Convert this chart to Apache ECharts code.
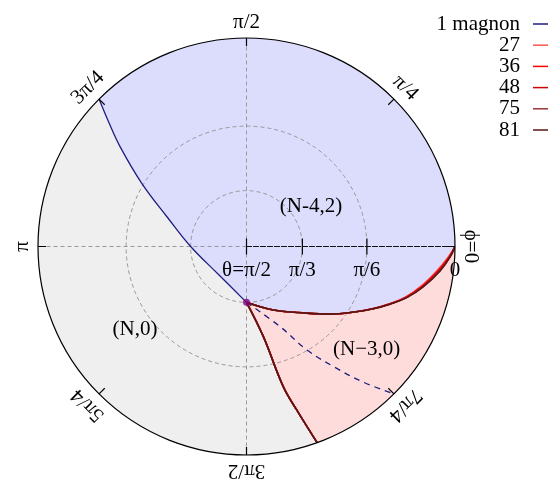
<!DOCTYPE html>
<html><head><meta charset="utf-8">
<script src="https://cdn.jsdelivr.net/npm/echarts@6/dist/echarts.min.js"></script>
<style>html,body{margin:0;padding:0;background:#fff}#c{width:559px;height:482px}</style>
</head><body><div id="c"></div>
<script>
// ---- axis ticks / labels ----
const angleTicks = [0, 45, 90, 135, 180, 225, 270, 315];
const angleLabels = ['ϕ=0', 'π/4', 'π/2', '3π/4', 'π', '5π/4', '3π/2', '7π/4'];
const gridAngles = [0, 90, 180, 270];
const thetaTicks = [90, 60, 30, 0];
const thetaLabels = ['θ=π/2', 'π/3', 'π/6', '0'];
const gridThetas = [60, 30];

// ---- data: curves given as (phi deg, theta deg) ----
const critPoint = [270, 60];
const magnonPhi = [270, 225, 180, 159.6, 148.9, 141.7, 138.1, 135];
const magnonTheta = [60, 68.5, 60, 45.8, 29.2, 14.6, 7.0, 0];
const magnonDashPhi = [270, 292.7, 300.3, 306.0, 310.7, 315];
const magnonDashTheta = [60, 44.8, 30.2, 19.0, 8.8, 0];

const seriesNames = ['27', '36', '48', '75', '81'];
const upperPhi = [270, 292.9, 312.1, 321.0, 329.2, 333.8, 338.1, 342.3, 347.1, 352.8, 357.0, 360];
const upper27 = [60, 53.4, 43.4, 35.5, 27.1, 21.95, 17.2, 12.75, 8.8, 4.7, 1.8, 0];
const upper36 = [60, 53.4, 43.4, 35.5, 27.1, 21.9, 17.05, 12.55, 8.5, 4.4, 1.6, 0];
const upper48 = [60, 53.4, 43.4, 35.5, 27.1, 21.85, 16.95, 12.4, 8.3, 4.15, 1.5, 0];
const upper75 = [60, 53.4, 43.4, 35.5, 27.1, 21.8, 16.9, 12.25, 8.1, 3.9, 1.35, 0];
const upper81 = [60, 53.4, 43.4, 35.5, 27.1, 21.8, 16.9, 12.2, 8.0, 3.8, 1.3, 0];
const lowerPhi = [270, 280.6, 284.7, 287.1, 289.8];
const lowerTheta = [60, 42.5, 20.4, 11.2, 0];

const regionNames = ['(N,0)', '(N-4,2)', '(N−3,0)'];
const regionPhi = [216.8, 31.5, 319.5];
const regionTheta = [22.5, 50.1, 15.7];

// ---- styles ----
const FONT = 'Liberation Serif';
const FS = 21;
const magnonColor = '#1e1e80';
const nColors = ['#ff5555', '#ff0000', '#d00000', '#993333', '#5a1515'];
const upperSets = [upper27, upper36, upper48, upper75, upper81];

// stereographic radial scale: r = tan((pi/2 - theta)/2)
const rOf = th => Math.tan((90 - th) / 2 * Math.PI / 180);
const pts = (phis, ths) => phis.map((p, i) => [rOf(ths[i]), p]);

const chart = echarts.init(document.getElementById('c'), null, {renderer: 'canvas'});

const series = [];

// region fills
series.push({
  type: 'custom', coordinateSystem: 'polar', z: 1, silent: true,
  data: [[0, 0], [0, 0], [0, 0]],
  renderItem: function (params, api) {
    const cs = params.coordSys;
    const P = (phi, th) => api.coord([rOf(th), phi]);
    const i = params.dataIndex;
    if (i === 0) {
      return {type: 'circle', shape: {cx: cs.cx, cy: cs.cy, r: cs.r}, style: {fill: '#efefef'}};
    }
    const poly = [];
    if (i === 1) {
      magnonPhi.forEach((p, k) => poly.push(P(p, magnonTheta[k])));
      for (let a = magnonPhi[magnonPhi.length - 1]; a >= 0; a -= 1) poly.push(P(a, 0));
      for (let k = upperPhi.length - 1; k >= 0; k--) poly.push(P(upperPhi[k], upper81[k]));
      return {type: 'polygon', shape: {points: poly, smooth: 0.3}, style: {fill: '#dcdcfd'}};
    }
    upperPhi.forEach((p, k) => poly.push(P(p, upper81[k])));
    const end = lowerPhi[lowerPhi.length - 1];
    for (let a = 360; a >= end; a -= 1) poly.push(P(a, 0));
    for (let k = lowerPhi.length - 1; k >= 0; k--) poly.push(P(lowerPhi[k], lowerTheta[k]));
    return {type: 'polygon', shape: {points: poly, smooth: 0.3}, style: {fill: '#ffdcdc'}};
  }
});

// dashed grid
series.push({
  type: 'custom', coordinateSystem: 'polar', z: 2, silent: true,
  data: [[0, 0]],
  renderItem: function (params, api) {
    const cs = params.coordSys;
    const children = [];
    const ls = {stroke: '#999', lineWidth: 1, lineDash: [4, 3], fill: null};
    gridThetas.forEach(th => {
      const p = api.coord([rOf(th), 0]);
      const rr = Math.hypot(p[0] - cs.cx, p[1] - cs.cy);
      children.push({type: 'circle', shape: {cx: cs.cx, cy: cs.cy, r: rr}, style: ls});
    });
    gridAngles.forEach(a => {
      const p = api.coord([1, a]);
      children.push({type: 'line', shape: {x1: cs.cx, y1: cs.cy, x2: p[0], y2: p[1]}, style: ls});
    });
    return {type: 'group', children: children};
  }
});

// 1 magnon
series.push({
  name: '1 magnon', type: 'line', coordinateSystem: 'polar', z: 4,
  data: pts(magnonPhi, magnonTheta), smooth: 0.4, symbol: 'none',
  lineStyle: {color: magnonColor, width: 1.3}, itemStyle: {color: magnonColor}
});
series.push({
  name: '1 magnon (dashed)', type: 'line', coordinateSystem: 'polar', z: 4,
  data: pts(magnonDashPhi, magnonDashTheta), smooth: 0.4, symbol: 'none',
  lineStyle: {color: magnonColor, width: 1.3, type: [6, 5]}, itemStyle: {color: magnonColor}
});

// N curves
seriesNames.forEach((nm, k) => {
  series.push({
    name: nm, type: 'line', coordinateSystem: 'polar', z: 5 + k,
    data: pts(upperPhi, upperSets[k]), smooth: 0.4, symbol: 'none',
    lineStyle: {color: nColors[k], width: 1.6}, itemStyle: {color: nColors[k]}
  });
  series.push({
    name: nm, type: 'line', coordinateSystem: 'polar', z: 5 + k,
    data: pts(lowerPhi, lowerTheta), smooth: 0.4, symbol: 'none',
    lineStyle: {color: nColors[k], width: 1.6}, itemStyle: {color: nColors[k]}
  });
});

// critical point
series.push({
  name: 'crit', type: 'scatter', coordinateSystem: 'polar', z: 12,
  data: [[rOf(critPoint[1]), critPoint[0]]], symbolSize: 7,
  itemStyle: {color: '#800080'}
});

// region labels
series.push({
  type: 'custom', coordinateSystem: 'polar', z: 14, silent: true,
  data: regionNames.map((n, i) => [rOf(regionTheta[i]), regionPhi[i]]),
  renderItem: function (params, api) {
    const i = params.dataIndex;
    const p = api.coord([rOf(regionTheta[i]), regionPhi[i]]);
    return {type: 'text', x: p[0], y: p[1],
      style: {text: regionNames[i], align: 'center', verticalAlign: 'middle',
        fontFamily: FONT, fontSize: FS, fill: '#000'}};
  }
});

// angular labels
series.push({
  type: 'custom', coordinateSystem: 'polar', z: 14, silent: true,
  data: angleTicks.map(a => [1, a]),
  renderItem: function (params, api) {
    const cs = params.coordSys;
    const a = angleTicks[params.dataIndex];
    const p = api.coord([1, a]);
    const dx = p[0] - cs.cx, dy = p[1] - cs.cy, d = Math.hypot(dx, dy);
    const off = 16;
    return {
      type: 'text', x: p[0] + dx / d * off, y: p[1] + dy / d * off,
      rotation: (a - 90) * Math.PI / 180,
      style: {text: angleLabels[params.dataIndex], align: 'center', verticalAlign: 'middle',
        fontFamily: FONT, fontSize: FS, fill: '#000'}
    };
  }
});

// radial ticks and labels
series.push({
  type: 'custom', coordinateSystem: 'polar', z: 14, silent: true,
  data: thetaTicks.map(t => [rOf(t), 0]),
  renderItem: function (params, api) {
    const th = thetaTicks[params.dataIndex];
    const p = api.coord([rOf(th), 0]);
    const children = [{
      type: 'text', x: p[0], y: p[1] + 24,
      style: {text: thetaLabels[params.dataIndex], align: 'center', verticalAlign: 'middle',
        fontFamily: FONT, fontSize: FS, fill: '#000'}
    }];
    if (th > 0) children.push({type: 'line', shape: {x1: p[0], y1: p[1] - 8, x2: p[0], y2: p[1] + 8},
      style: {stroke: '#000', lineWidth: 1.2}});
    return {type: 'group', children: children};
  }
});

chart.setOption({
  animation: false,
  backgroundColor: '#fff',
  polar: {center: [246.5, 246.5], radius: 208.5},
  angleAxis: {
    type: 'value', min: 0, max: 360, interval: 45, startAngle: 0, clockwise: false, z: 10,
    axisLine: {lineStyle: {color: '#000', width: 1.2}},
    axisTick: {inside: true, length: 8, lineStyle: {color: '#000', width: 1.2}},
    axisLabel: {show: false}, splitLine: {show: false}
  },
  radiusAxis: {
    type: 'value', min: 0, max: 1, z: 10,
    axisLine: {show: true, lineStyle: {color: '#111', width: 1.2, type: [5, 2]}},
    axisTick: {show: false}, axisLabel: {show: false}, splitLine: {show: false}
  },
  legend: {
    data: ['1 magnon'].concat(seriesNames),
    orient: 'vertical', right: 6, top: 8.5, align: 'right',
    icon: 'rect', itemWidth: 15, itemHeight: 1.5, itemGap: 0.2,
    textStyle: {fontFamily: FONT, fontSize: FS, color: '#000', padding: [0, 8, 0, 0]}
  },
  series: series
});
</script>
</body></html>
